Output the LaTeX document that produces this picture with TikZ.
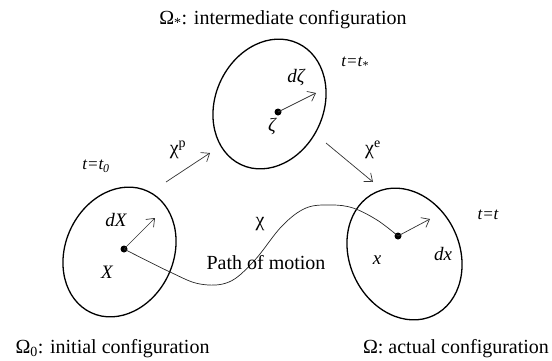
\documentclass[tikz,border=0pt]{standalone}
\usepackage{fontspec}
\setmainfont{Liberation Serif}
\usetikzlibrary{arrows.meta}
\begin{document}
\begin{tikzpicture}[x=1pt,y=1pt,
  dotnode/.style={circle,fill=black,inner sep=0pt,minimum size=7pt},
  vec/.style={draw=black!80,line width=0.7pt,-{Straight Barb[length=7pt,width=11pt]}},
  lab/.style={inner sep=1pt,font=\fontsize{20}{24}\selectfont},
  ilab/.style={inner sep=1pt,font=\fontsize{19}{23}\selectfont\itshape},
  tlab/.style={inner sep=1pt,font=\fontsize{17}{20}\selectfont\itshape}]
\useasboundingbox (0,0) rectangle (552,360);
% bodies
\draw[line width=1.3pt] (269.5,256) ellipse[x radius=54,y radius=67,rotate=-25];
\draw[line width=1.3pt] (119.5,108) ellipse[x radius=54,y radius=67,rotate=-25];
\draw[line width=1.3pt] (404.5,106) ellipse[x radius=55,y radius=68,rotate=25];
% points
\node[dotnode] (zd) at (278,248) {};
\node[dotnode] (Xd) at (124,111) {};
\node[dotnode] (xd) at (398,124) {};
\coordinate (ze) at (316,267);
\coordinate (Xe) at (155,142);
\coordinate (xe) at (430,141);
\draw[vec] (zd.center) -- (ze);
\draw[vec] (Xd.center) -- (Xe);
\draw[vec] (xd.center) -- (xe);
% path of motion
\draw[black!85,line width=0.7pt] plot[smooth,tension=0.6] coordinates {(Xd.center) (170,88) (200,76) (229,78) (254,99) (282,134) (306,152) (331,155) (353,152) (377,140) (xd.center)};
% mapping arrows
\coordinate (ps) at (166,178);
\coordinate (pe) at (210,207);
\coordinate (es) at (326,217);
\coordinate (ee) at (373,178);
\draw[vec] (ps) -- (pe);
\draw[vec] (es) -- (ee);
% labels
\node[ilab] (dz) at (296,283) {dζ};
\node[ilab] (zl) at (272,234) {ζ};
\node[ilab] (dX) at (116,140) {dX};
\node[ilab] (Xl) at (107,88) {X};
\node[ilab] (xl) at (377,100) {x};
\node[ilab] (dx) at (443,106) {dx};
\node[lab] (chi) at (260,136) {χ};
\node[lab] (pom) at (266,97) {Path of motion};
\node[lab] (chip) at (178,210) {χ\textsuperscript{p}};
\node[lab] (chie) at (373,210) {χ\textsuperscript{e}};
\node[tlab] (t0) at (96,194) {t=t\textsubscript{0}};
\node[tlab] (ts) at (355,297) {t=t\textsubscript{*}};
\node[tlab] (tt) at (488,145) {t=t};
\node[lab] (Om1) at (283,340) {Ω\textsubscript{*}: intermediate configuration};
\node[lab] (Om0) at (112.5,11) {Ω\textsubscript{0}: initial configuration};
\node[lab] (Om) at (456,11) {Ω: actual configuration};
\end{tikzpicture}
\end{document}
